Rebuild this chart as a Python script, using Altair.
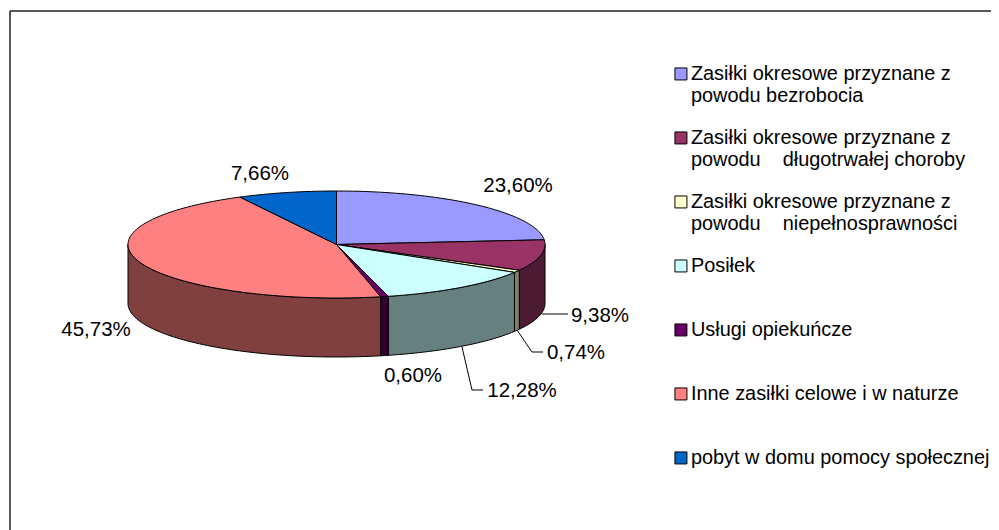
import math
import altair as alt
import pandas as pd

CATEGORIES = [
    "Zasiłki okresowe przyznane z|powodu bezrobocia",
    "Zasiłki okresowe przyznane z|powodu\u00a0\u00a0\u00a0\u00a0długotrwałej choroby",
    "Zasiłki okresowe przyznane z|powodu\u00a0\u00a0\u00a0\u00a0niepełnosprawności",
    "Posiłek",
    "Usługi opiekuńcze",
    "Inne zasiłki celowe i w naturze",
    "pobyt w domu pomocy społecznej",
]
SHARES = [23.60, 9.38, 0.74, 12.28, 0.60, 45.73, 7.66]
TOP_COLORS = ["#9999FF", "#993366", "#FFFFCC", "#CCFFFF", "#660066", "#FF8080", "#0066CC"]
WALL_COLORS = ["#4D1A33", "#4D1A33", "#808066", "#668080", "#330033", "#804040", "#003366"]
LABELS = ["23,60%", "9,38%", "0,74%", "12,28%", "0,60%", "45,73%", "7,66%"]

# layout: picture pixels, converted to the plot group's pixels
W, H = 983, 522
OX, OY = 8, 8
LABEL_FONT = 20.5
LEGEND_FONT = 19.9

CX, CY, RX, RY, DEPTH = 336.5 - OX, 244.5 - OY, 208.5, 53.5, 59
LABEL_XY = [(518, 186), (600, 316), (576, 353), (522, 391), (413, 376), (96, 330), (260, 174)]
LEADERS = {
    1: [(542, 314), (568, 314)],
    2: [(517, 330), (532, 352), (543, 352)],
    3: [(462, 347), (472, 390), (483, 390)],
}


def pt(deg, dz=0.0):
    a = math.radians(deg)
    return CX + RX * math.sin(a), CY - RY * math.cos(a) + dz


def arc(a0, a1):
    n = max(2, int(abs(a1 - a0) / 1.5) + 2)
    return [a0 + (a1 - a0) * k / (n - 1) for k in range(n)]


total = sum(SHARES)
top_rows, wall_rows = [], []
start = 0.0
for idx, (cat, share) in enumerate(zip(CATEGORIES, SHARES)):
    end = start + share / total * 360
    poly = [(CX, CY)] + [pt(a) for a in arc(start, end)] + [(CX, CY)]
    for i, (x, y) in enumerate(poly):
        top_rows.append({"cat": cat, "i": i, "x": x, "y": y})
    lo, hi = max(start, 90), min(end, 270)
    if lo < hi:
        poly = [pt(a) for a in arc(lo, hi)] + [pt(a, DEPTH) for a in arc(hi, lo)]
        poly.append(poly[0])
        for i, (x, y) in enumerate(poly):
            wall_rows.append({"cat": cat, "wall": WALL_COLORS[idx], "i": i, "x": x, "y": y})
    start = end

top_df = pd.DataFrame(top_rows)
wall_df = pd.DataFrame(wall_rows)
label_df = pd.DataFrame(
    {"t": LABELS, "x": [p[0] - OX for p in LABEL_XY], "y": [p[1] - OY for p in LABEL_XY]}
)
leader_df = pd.DataFrame(
    [
        {"k": k, "i": i, "x": p[0] - OX, "y": p[1] - OY}
        for k, pts in LEADERS.items()
        for i, p in enumerate(pts)
    ]
)

xs = alt.X("x:Q", scale=alt.Scale(domain=[0, W], range=[0, W]), axis=None)
ys = alt.Y("y:Q", scale=alt.Scale(domain=[0, H], range=[0, H]), axis=None)

walls = (
    alt.Chart(wall_df)
    .mark_line(stroke="black", strokeWidth=1, strokeJoin="round")
    .encode(x=xs, y=ys, order="i:Q", detail="cat:N", fill=alt.Fill("wall:N", scale=None, legend=None))
)
tops = (
    alt.Chart(top_df)
    .mark_line(stroke="black", strokeWidth=1, strokeJoin="round")
    .encode(
        x=xs,
        y=ys,
        order="i:Q",
        detail="cat:N",
        fill=alt.Fill(
            "cat:N",
            scale=alt.Scale(domain=CATEGORIES, range=TOP_COLORS),
            sort=CATEGORIES,
            legend=alt.Legend(
                title=None,
                orient="none",
                legendX=663,
                legendY=56,
                symbolType="square",
                symbolSize=144,
                symbolStrokeColor="black",
                symbolStrokeWidth=1,
                labelFont="Liberation Sans",
                labelFontSize=LEGEND_FONT,
                labelColor="black",
                labelLimit=400,
                labelBaseline="middle",
                labelExpr="split(datum.label, '|')",
                labelOffset=0,
                rowPadding=21,
                gridAlign="all",
                columns=1,
                padding=0,
            ),
        ),
    )
)
leaders = (
    alt.Chart(leader_df)
    .mark_line(stroke="black", strokeWidth=1)
    .encode(x=xs, y=ys, order="i:Q", detail="k:N")
)
texts = (
    alt.Chart(label_df)
    .mark_text(font="Liberation Sans", fontSize=LABEL_FONT, color="black", align="center", baseline="middle")
    .encode(x=xs, y=ys, text="t:N")
)
frame_top = alt.Chart(pd.DataFrame({"a": [1]})).mark_rule(color="#222222", strokeWidth=1.5).encode(
    x=alt.value(2), x2=alt.value(W), y=alt.value(3)
)
frame_left = alt.Chart(pd.DataFrame({"a": [1]})).mark_rule(color="#222222", strokeWidth=1.5).encode(
    x=alt.value(2), y=alt.value(3), y2=alt.value(H)
)

chart = (
    alt.layer(frame_top, frame_left, walls, tops, leaders, texts)
    .resolve_scale(fill="independent")
    .properties(width=W, height=H, padding=0, autosize=alt.AutoSizeParams(type="none"))
    .configure_view(stroke=None)
)
chart.save("out.html", embed_options={"renderer": "svg", "actions": False})
